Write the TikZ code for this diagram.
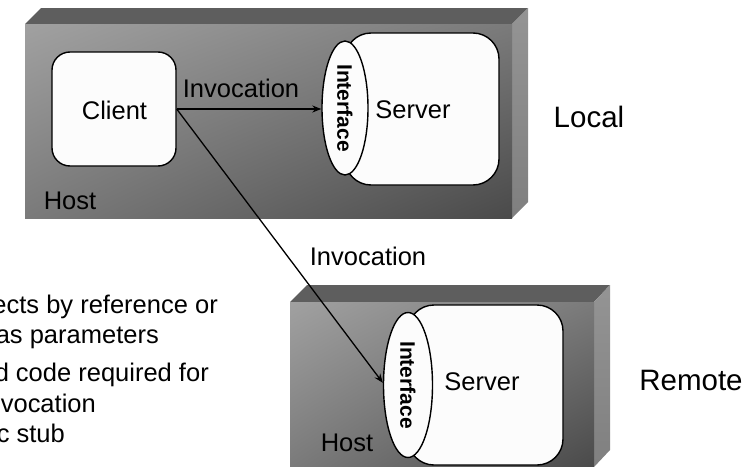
\documentclass[tikz,border=0pt]{standalone}
\usepackage{fontspec}
\setmainfont{Liberation Sans}
\usetikzlibrary{shapes.geometric,arrows.meta,shadings}

\definecolor{frontlight}{gray}{0.63}
\definecolor{frontmid}{gray}{0.48}
\definecolor{frontdark}{gray}{0.29}
\definecolor{topface}{gray}{0.37}
\definecolor{sidelight}{gray}{0.58}
\definecolor{sidedark}{gray}{0.50}
\definecolor{boxwhite}{gray}{0.99}

\begin{document}
\begin{tikzpicture}[x=1pt, y=-1pt,
  frontface/.style={upper left=frontlight, upper right=frontmid, lower left=frontmid, lower right=frontdark},
  sideface/.style={top color=sidelight, bottom color=sidedark},
  whitebox/.style={draw=black, fill=boxwhite, line width=1.4pt, inner sep=0pt},
  clientbox/.style={whitebox, rectangle, rounded corners=18pt},
  serverbody/.style={whitebox, rectangle, rounded corners=26pt},
  ifc/.style={whitebox, ellipse},
  ifctext/.style={rotate=-90, font=\bfseries\fontsize{21}{24}\selectfont, inner sep=0pt},
  lbl/.style={font=\fontsize{25.5}{30}\selectfont, inner sep=0pt},
  biglbl/.style={font=\fontsize{29.5}{34}\selectfont, inner sep=0pt},
  conn/.style={line width=1.3pt, -{Stealth[length=9pt, width=7pt]}}]
\useasboundingbox (0,0) rectangle (747,466);
\clip (0,0) rectangle (747,466);

% local host
\fill[topface] (25,24) -- (41,8) -- (528,8) -- (512,24) -- cycle;
\shade[sideface] (512,24) -- (528,8) -- (528,202) -- (512,218) -- cycle;
\shade[frontface] (25,24) rectangle (512,218);

% remote host
\fill[topface] (290,302) -- (307,285) -- (610,285) -- (594,302) -- cycle;
\shade[sideface] (594,302) -- (610,285) -- (610,450) -- (594,467) -- cycle;
\shade[frontface] (290,302) rectangle (594,467);

% local side
\node[clientbox, minimum width=124, minimum height=114] (client) at (114,109) {};
\node[lbl] (clienttxt) at (114.5,110) {Client};
\node[serverbody, minimum width=154, minimum height=152] (srvL) at (422,109) {};
\node[ifc, minimum width=46, minimum height=134] (ifcL) at (345,108) {};
\node[ifctext] (ifcLtxt) at (ifcL) {Interface};
\node[lbl] (srvLtxt) at (413,110) {Server};
\node[lbl] (hostL) at (70,201) {Host};
\node[biglbl] (local) at (589,117) {Local};

% remote side
\node[serverbody, minimum width=155, minimum height=160] (srvR) at (485.5,385) {};
\node[ifc, minimum width=49, minimum height=145] (ifcR) at (408,385) {};
\node[ifctext] (ifcRtxt) at (ifcR) {Interface};
\node[lbl] (srvRtxt) at (482,382) {Server};
\node[lbl] (hostR) at (347,443) {Host};
\node[biglbl] (remote) at (691,380) {Remote};

% invocations
\draw[conn] (client.east) -- (client.east -| ifcL.west);
\draw[conn] (client.east) -- (ifcR.175);
\node[lbl] (invL) at (241,88) {Invocation};
\node[lbl] (invR) at (368,256) {Invocation};

% cut-off bullet text
\node[lbl, anchor=base east] (t1) at (218,313) {ects by reference or};
\node[lbl, anchor=base east] (t2) at (159,343) {as parameters};
\node[lbl, anchor=base east] (t3) at (209,381) {d code required for};
\node[lbl, anchor=base east] (t4) at (96,412) {vocation};
\node[lbl, anchor=base east] (t5) at (65,442) {c stub};
\end{tikzpicture}
\end{document}
